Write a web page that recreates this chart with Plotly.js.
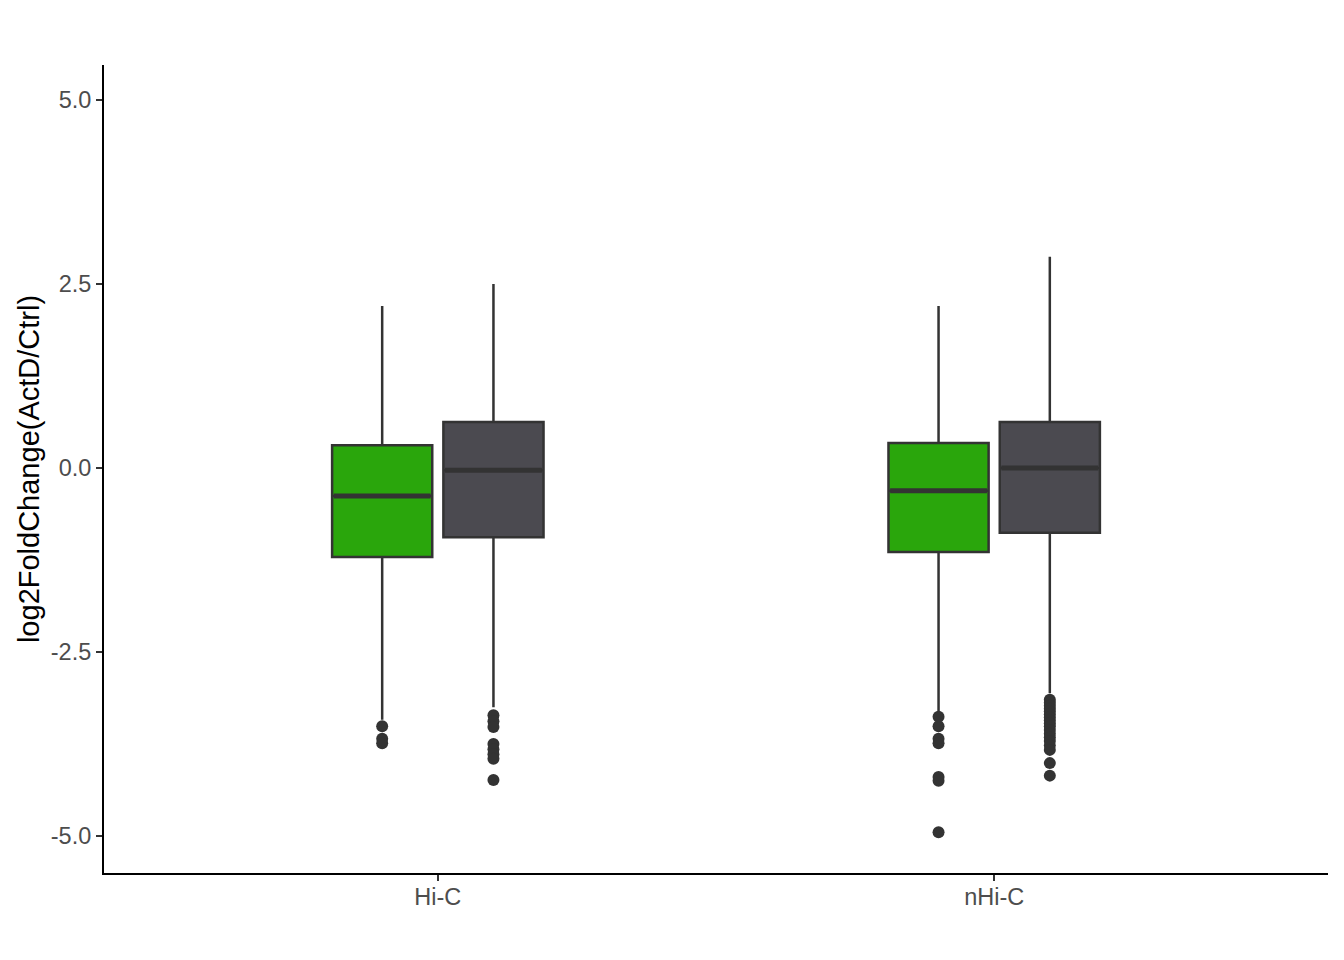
<!DOCTYPE html>
<html>
<head>
<meta charset="utf-8">
<script src="https://cdn.plot.ly/plotly-3.0.1.min.js"></script>
<style>html,body{margin:0;padding:0;background:#fff;}#chart{width:1344px;height:960px;}</style>
</head>
<body>
<div id="chart"></div>
<script>
// ---- data ----
const categories = ['Hi-C', 'nHi-C'];
const seriesNames = ['green', 'grey'];

const greenQ1 = [-1.21, -1.14];
const greenMedian = [-0.38, -0.31];
const greenQ3 = [0.31, 0.34];
const greenLower = [-3.42, -3.31];
const greenUpper = [2.20, 2.20];

const greyQ1 = [-0.94, -0.88];
const greyMedian = [-0.03, 0.00];
const greyQ3 = [0.625, 0.625];
const greyLower = [-3.25, -3.06];
const greyUpper = [2.50, 2.87];

const greenOutliersHiC = [-3.51, -3.68, -3.74];
const greenOutliersNHiC = [-3.38, -3.51, -3.68, -3.74, -4.20, -4.25, -4.95];
const greyOutliersHiC = [-3.36, -3.44, -3.52, -3.75, -3.82, -3.89, -3.95, -4.24];
const greyOutliersNHiC = [-3.15, -3.19, -3.23, -3.27, -3.31, -3.35, -3.39, -3.43, -3.47, -3.51, -3.56, -3.61, -3.66, -3.71, -3.77, -3.83, -4.01, -4.18];

const yTickVals = [-5, -2.5, 0, 2.5, 5];
const yTickText = ['-5.0', '-2.5', '0.0', '2.5', '5.0'];

// ---- styling / layout constants ----
const fills = ['#2AA60C', '#4B4A50'];
const edge = '#333333';
const dodge = 0.1;      // offset of each box from the category centre
const boxW = 0.18;      // box width in axis units
const catPos = categories.map((c, i) => i + 1);

const stats = [
  {q1: greenQ1, med: greenMedian, q3: greenQ3, lo: greenLower, hi: greenUpper, out: [greenOutliersHiC, greenOutliersNHiC]},
  {q1: greyQ1, med: greyMedian, q3: greyQ3, lo: greyLower, hi: greyUpper, out: [greyOutliersHiC, greyOutliersNHiC]}
];

const traces = [];
stats.forEach((s, k) => {
  const off = k === 0 ? -dodge : dodge;
  const xs = catPos.map(p => p + off);
  traces.push({
    type: 'box', name: seriesNames[k], x: xs,
    q1: s.q1, median: s.med, q3: s.q3, lowerfence: s.lo, upperfence: s.hi,
    width: boxW, whiskerwidth: 0,
    fillcolor: fills[k], line: {color: edge, width: 2.5},
    boxpoints: false, hoverinfo: 'skip', showlegend: false
  });
  // thicker median bar (ggplot fatten)
  xs.forEach((x, i) => {
    traces.push({
      type: 'scatter', mode: 'lines',
      x: [x - boxW / 2 + 0.003, x + boxW / 2 - 0.003], y: [s.med[i], s.med[i]],
      line: {color: edge, width: 5}, hoverinfo: 'skip', showlegend: false
    });
    traces.push({
      type: 'scatter', mode: 'markers',
      x: s.out[i].map(() => x), y: s.out[i],
      marker: {color: edge, size: 12}, hoverinfo: 'skip', showlegend: false
    });
  });
});

const layout = {
  width: 1344, height: 960,
  margin: {l: 104, r: 16, t: 65, b: 87},
  paper_bgcolor: '#ffffff', plot_bgcolor: '#ffffff',
  showlegend: false, boxmode: 'overlay',
  font: {family: 'Liberation Sans, Arial, sans-serif', color: '#4D4D4D'},
  xaxis: {
    range: [0.4, 2.6], tickvals: catPos, ticktext: categories,
    showgrid: false, zeroline: false, showline: true, linecolor: '#000000', linewidth: 2,
    ticks: 'outside', ticklen: 6, tickwidth: 2, tickcolor: edge,
    ticklabelstandoff: -4,
    tickfont: {size: 23.5, color: '#4D4D4D'}
  },
  yaxis: {
    range: [-5.503, 5.476], tickvals: yTickVals, ticktext: yTickText,
    showgrid: false, zeroline: false, showline: true, linecolor: '#000000', linewidth: 2,
    ticks: 'outside', ticklen: 6, tickwidth: 2, tickcolor: edge,
    tickfont: {size: 23.5, color: '#4D4D4D'},
    title: {text: 'log2FoldChange(ActD/Ctrl)', font: {size: 29, color: '#000000'}, standoff: 3}
  }
};

Plotly.newPlot('chart', traces, layout, {displayModeBar: false, staticPlot: true});
</script>
</body>
</html>
